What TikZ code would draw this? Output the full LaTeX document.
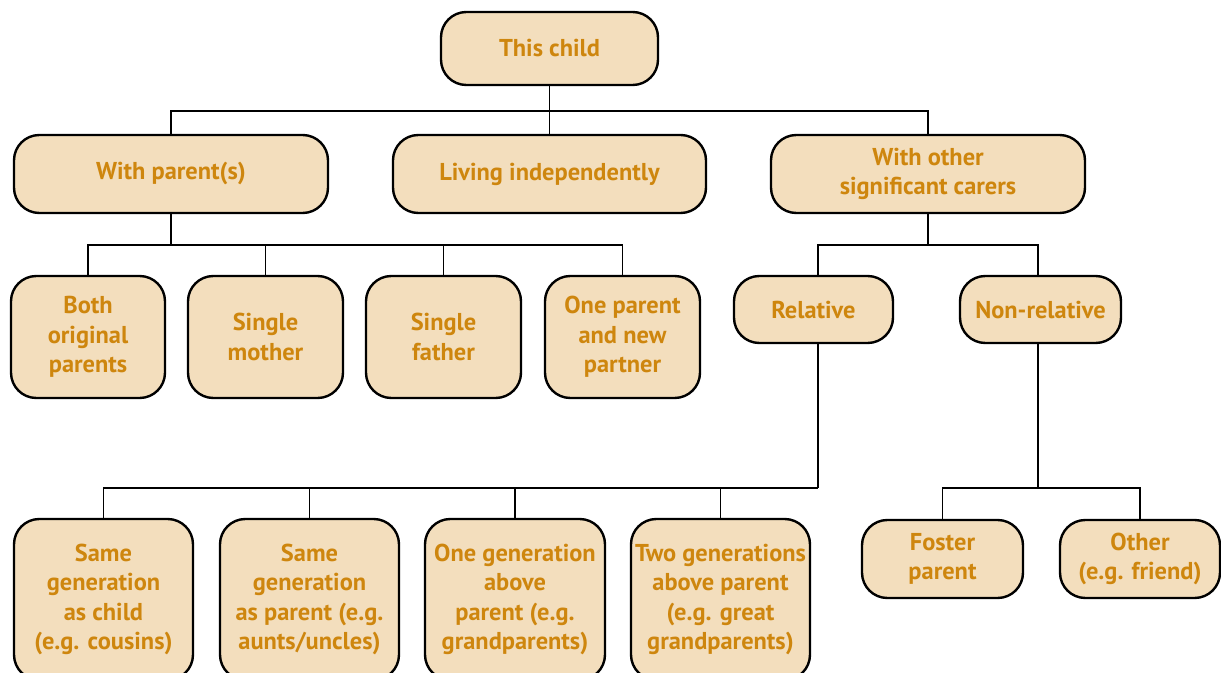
\documentclass[tikz,border=0pt]{standalone}
\usepackage{fontspec}
\setmainfont{PT Sans}
\definecolor{boxfill}{RGB}{243,222,189}
\definecolor{txt}{RGB}{206,134,14}
\tikzset{
  box/.style={draw, line width=1.8pt, fill=boxfill, rounded corners=19pt, text=txt,
    align=center, inner sep=0pt,
    font=\bfseries\fontsize{18.3pt}{22pt}\selectfont},
  conn/.style={line width=1.2pt}
}
\begin{document}
\begin{tikzpicture}[x=0.75pt,y=-0.75pt]
\useasboundingbox (0,0) rectangle (1221,673);
\clip (0,0) rectangle (1221,673);
% level 0
\node[box, minimum width=217*0.75pt, minimum height=73*0.75pt] (child) at (549.5,48.5) {This child};
% level 1
\node[box, minimum width=314*0.75pt, minimum height=78*0.75pt] (wp) at (171,174) {With parent(s)};
\node[box, minimum width=313*0.75pt, minimum height=78*0.75pt] (li) at (549.5,174) {Living independently};
\node[box, minimum width=314*0.75pt, minimum height=78*0.75pt] (wo) at (928,174) {With other\\significant carers};
% level 2 parents
\node[box, minimum width=154*0.75pt, minimum height=122*0.75pt] (both) at (88,337) {Both\\original\\parents};
\node[box, minimum width=155*0.75pt, minimum height=122*0.75pt] (sm) at (265.5,337) {Single\\mother};
\node[box, minimum width=155*0.75pt, minimum height=122*0.75pt] (sf) at (443.5,337) {Single\\father};
\node[box, minimum width=155*0.75pt, minimum height=122*0.75pt] (op) at (622.5,337) {One parent\\and new\\partner};
% level 2 carers
\node[box, minimum width=159*0.75pt, minimum height=67*0.75pt] (rel) at (813.5,309.5) {Relative};
\node[box, minimum width=161*0.75pt, minimum height=67*0.75pt] (nrel) at (1040.5,309.5) {Non-relative};
% level 3 relatives
\node[box, minimum width=179*0.75pt, minimum height=161*0.75pt] (r1) at (103.5,599.5) {Same\\generation\\as child\\(e.g. cousins)};
\node[box, minimum width=179*0.75pt, minimum height=161*0.75pt] (r2) at (309.5,599.5) {Same\\generation\\as parent (e.g.\\aunts/uncles)};
\node[box, minimum width=180*0.75pt, minimum height=161*0.75pt] (r3) at (515,599.5) {One generation\\above\\parent (e.g.\\grandparents)};
\node[box, minimum width=179*0.75pt, minimum height=161*0.75pt] (r4) at (720.5,599.5) {Two generations\\above parent\\(e.g. great\\grandparents)};
% level 3 non-relatives
\node[box, minimum width=161*0.75pt, minimum height=78*0.75pt] (fp) at (942.5,559) {Foster\\parent};
\node[box, minimum width=160*0.75pt, minimum height=78*0.75pt] (ot) at (1140,559) {Other\\(e.g. friend)};
% junctions
\coordinate (j0) at (549.5,111);
\coordinate (j1) at (171,245);
\coordinate (j2) at (928,245);
\coordinate (j3) at (818,488);
\coordinate (j4) at (1038,488);
% connectors
\draw[conn] (child) -- (j0);
\draw[conn] (wp.north) |- (j0) -| (wo.north);
\draw[conn] (j0) -- (li.north);
\draw[conn] (wp) -- (j1);
\draw[conn] (both.north) |- (j1) -| (op.north);
\draw[conn] (sm.north) -- (sm.north |- j1);
\draw[conn] (sf.north) -- (sf.north |- j1);
\draw[conn] (wo) -- (j2);
\draw[conn] (rel.north -| j3) |- (j2) -| (nrel.north -| j4);
\draw[conn] (rel.south -| j3) -- (j3);
\draw[conn] (r1.north) |- (j3);
\draw[conn] (r2.north) -- (r2.north |- j3);
\draw[conn] (r3.north) -- (r3.north |- j3);
\draw[conn] (r4.north) -- (r4.north |- j3);
\draw[conn] (nrel.south -| j4) -- (j4);
\draw[conn] (fp.north) |- (j4) -| (ot.north);
\end{tikzpicture}
\end{document}
